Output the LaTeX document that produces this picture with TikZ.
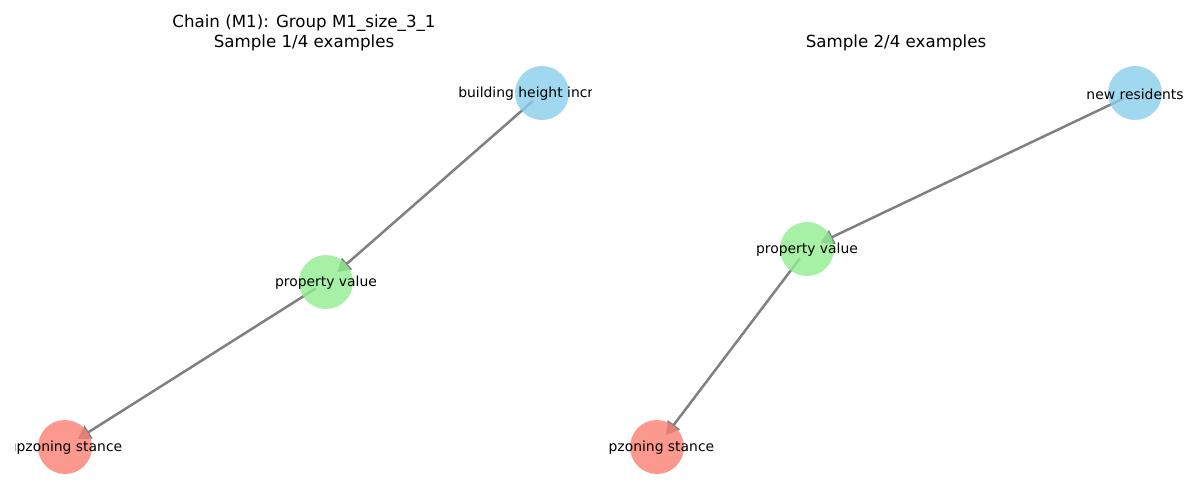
\documentclass[tikz,border=0pt]{standalone}
\usepackage{fontspec}
\setmainfont{DejaVu Sans}
\usetikzlibrary{arrows.meta}
\pgfdeclarelayer{bg}
\pgfsetlayers{bg,main}
\definecolor{skyb}{HTML}{87CEEB}
\definecolor{lgreen}{HTML}{90EE90}
\definecolor{salm}{HTML}{FA8072}
\definecolor{edgegray}{HTML}{808080}
\tikzset{
  gnode/.style={circle, draw=none, minimum size=54pt, inner sep=0pt, fill opacity=0.8},
  glabel/.style={inner sep=0pt, yshift=-1pt, font=\fontsize{13.9}{16}\selectfont, text=black},
  gedge/.style={draw=edgegray, line width=2.5pt, shorten <=12pt, shorten >=15pt,
    -{Triangle[length=13pt,width=15pt]}},
  gtitle/.style={inner sep=0pt, anchor=base, font=\fontsize{16.67}{20}\selectfont, text=black}
}
\begin{document}
\begin{tikzpicture}[x=1pt,y=-1pt]
\useasboundingbox (0,0) rectangle (1200,500);
% titles
\node[gtitle] (t1a) at (304,28) {Chain (M1): Group M1\_size\_3\_1};
\node[gtitle] (t1b) at (304,48) {Sample 1/4 examples};
\node[gtitle] (t2) at (896,48) {Sample 2/4 examples};
% left panel
\begin{scope}
\clip (15,0) rectangle (591,500);
\node[gnode, fill=skyb] (a1) at (542,93) {};
\node[gnode, fill=lgreen] (b1) at (326,282) {};
\node[gnode, fill=salm] (c1) at (65,447) {};
\begin{pgfonlayer}{bg}
\draw[gedge] (a1.center) -- (b1.center);
\draw[gedge] (b1.center) -- (c1.center);
\end{pgfonlayer}
\node[glabel] (la1) at (a1.center) {building height increase};
\node[glabel] (lb1) at (b1.center) {property value};
\node[glabel] (lc1) at (c1.center) {upzoning stance};
\end{scope}
% right panel
\begin{scope}
\clip (608,0) rectangle (1190,500);
\node[gnode, fill=skyb] (a2) at (1135,93) {};
\node[gnode, fill=lgreen] (b2) at (807,249) {};
\node[gnode, fill=salm] (c2) at (657,447) {};
\begin{pgfonlayer}{bg}
\draw[gedge] (a2.center) -- (b2.center);
\draw[gedge] (b2.center) -- (c2.center);
\end{pgfonlayer}
\node[glabel] (la2) at (a2.center) {new residents};
\node[glabel] (lb2) at (b2.center) {property value};
\node[glabel] (lc2) at (c2.center) {upzoning stance};
\end{scope}
\end{tikzpicture}
\end{document}
